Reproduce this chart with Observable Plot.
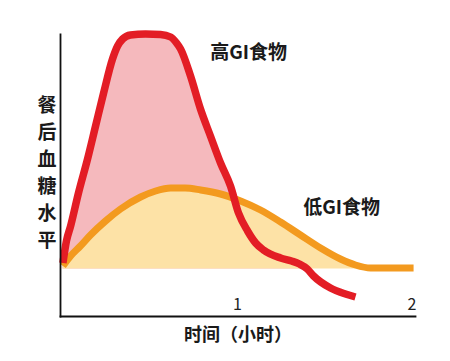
<!DOCTYPE html>
<html>
<head>
<meta charset="utf-8">
<script src="https://cdn.jsdelivr.net/npm/d3@7"></script>
<script src="https://cdn.jsdelivr.net/npm/@observablehq/plot@0.6"></script>
<style>
  html, body { margin: 0; padding: 0; background: #fff; }
  #chart svg { display: block; font-family: "Noto Sans CJK SC", "Noto Sans", sans-serif; }
</style>
</head>
<body>
<div id="chart"></div>
<script>
// Time (hours) and relative post-meal blood glucose (baseline = 0)
const highGITime = [0, 0.02, 0.044, 0.089, 0.141, 0.187, 0.233, 0.284, 0.313, 0.342, 0.387, 0.473, 0.559, 0.617, 0.651, 0.674, 0.731, 0.788, 0.845, 0.903, 0.960, 1.006, 1.058, 1.104, 1.149, 1.247, 1.310, 1.355, 1.400, 1.436, 1.533, 1.619, 1.676];
const highGIValue = [0.06, 0.28, 0.43, 0.76, 1.10, 1.43, 1.76, 2.10, 2.23, 2.30, 2.34, 2.35, 2.345, 2.32, 2.26, 2.20, 1.93, 1.60, 1.33, 1.06, 0.83, 0.56, 0.38, 0.26, 0.19, 0.11, 0.08, 0.05, 0.00, -0.07, -0.19, -0.25, -0.28];

const lowGITime = [0, 0.044, 0.10, 0.158, 0.244, 0.33, 0.445, 0.531, 0.617, 0.70, 0.789, 0.903, 1.018, 1.132, 1.247, 1.361, 1.476, 1.59, 1.676, 1.762, 1.877, 2.009];
const lowGIValue = [0.03, 0.13, 0.23, 0.34, 0.48, 0.60, 0.72, 0.78, 0.81, 0.81, 0.79, 0.75, 0.68, 0.59, 0.47, 0.34, 0.21, 0.10, 0.04, 0.01, 0.01, 0.01];

const xTicks = [1, 2];
const seriesLabels = ["高GI食物", "低GI食物"];
const labelTime = [1.064, 1.597];
const labelValue = [2.165, 0.615];
const yAxisTitle = "餐后血糖水平";
const xAxisTitle = "时间（小时）";

const high = highGITime.map((t, i) => ({t, v: highGIValue[i]}));
const low = lowGITime.map((t, i) => ({t, v: lowGIValue[i]}));
const labels = seriesLabels.map((s, i) => ({s, t: labelTime[i], v: labelValue[i]}));

const curve = "monotone-x";

const chart = Plot.plot({
  width: 450,
  height: 361,
  marginLeft: 60,
  marginRight: 35,
  marginTop: 34,
  marginBottom: 45,
  x: {domain: [-0.014, 2.02], axis: null},
  y: {domain: [-0.475, 2.345], axis: null},
  marks: [
    Plot.areaY(high, {x: "t", y1: 0, y2: d => Math.max(d.v, 0), fill: "#f5b9bd", curve}),
    Plot.areaY(low, {x: "t", y1: 0, y2: "v", fill: "#fde2a6", curve}),
    Plot.line(low, {x: "t", y: "v", stroke: "#f39a1f", strokeWidth: 7, curve, strokeLinecap: "butt"}),
    Plot.line(high, {x: "t", y: "v", stroke: "#e31d25", strokeWidth: 7.5, curve, strokeLinecap: "butt"}),
    Plot.frame({anchor: "left", stroke: "#111", strokeWidth: 1.8}),
    Plot.frame({anchor: "bottom", stroke: "#111", strokeWidth: 1.8}),
    Plot.axisX(xTicks, {tickSize: 0, dy: -27, fontSize: 16, fill: "#222", tickFormat: d => String(d), label: null}),
    Plot.text(labels, {x: "t", y: "v", text: "s", fontSize: 19, fontWeight: "bold", fill: "#1a1a1a"}),
    Plot.text([xAxisTitle], {frameAnchor: "bottom", dy: 24, fontSize: 18, fontWeight: "bold", fill: "#1a1a1a"}),
    Plot.text([yAxisTitle.split("").join("\n")], {frameAnchor: "left", dx: -23, dy: -4.5, fontSize: 19, lineHeight: 1.42, fontWeight: "bold", fill: "#1a1a1a"})
  ]
});
document.getElementById("chart").appendChild(chart);
</script>
</body>
</html>
